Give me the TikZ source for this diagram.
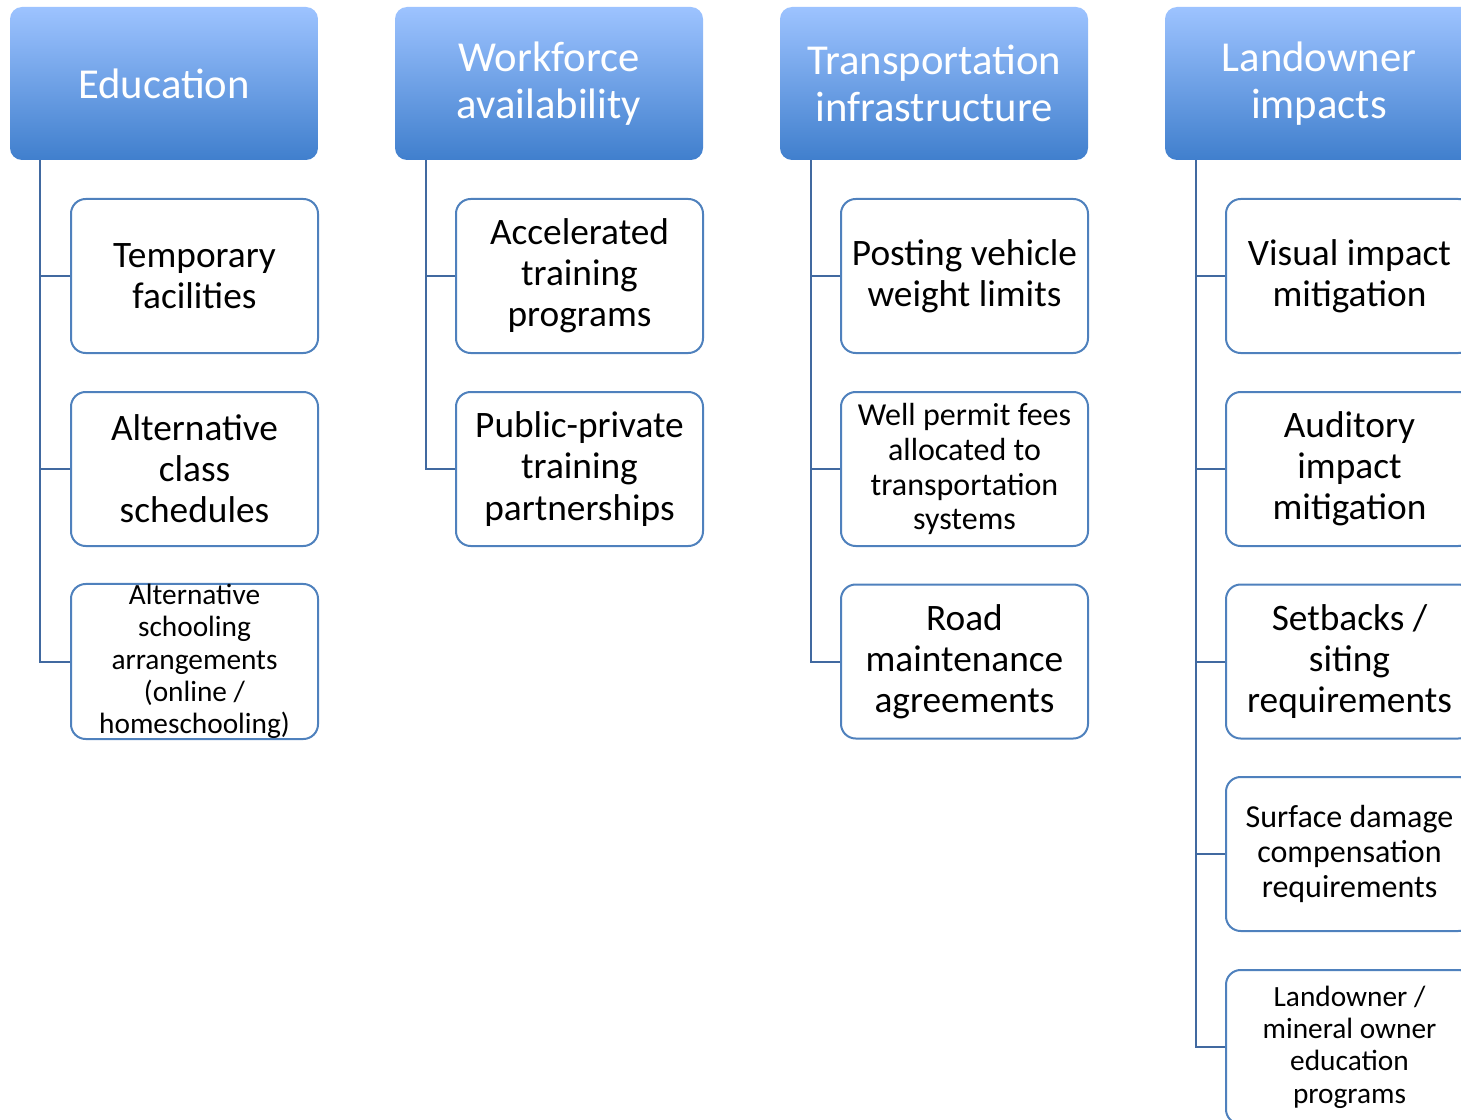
\documentclass[tikz,border=0pt]{standalone}
\usepackage{fontspec}
\setmainfont{Carlito}
\usetikzlibrary{calc}
\definecolor{hdrtop}{RGB}{157,195,255}
\definecolor{hdrbot}{RGB}{64,127,205}
\definecolor{boxline}{RGB}{79,129,189}
\definecolor{connline}{RGB}{65,105,160}
\begin{document}
\begin{tikzpicture}[x=0.75pt,y=-0.75pt,
 hdr/.style={rounded corners=9pt, top color=hdrtop, bottom color=hdrbot, draw=none, minimum width=231pt, minimum height=114.75pt, text=white, align=center, font=\fontsize{32}{35}\selectfont, inner sep=0pt},
 item/.style={rounded corners=11pt, draw=boxline, line width=1.5pt, fill=white, minimum width=185.25pt, minimum height=115.5pt, align=center, inner sep=0pt, font=\fontsize{28}{30.8}\selectfont},
 smalltxt/.style={font=\fontsize{24}{26.2}\selectfont},
 tinytxt/.style={font=\fontsize{22}{24.3}\selectfont},
 conn/.style={draw=connline, line width=1.5pt}]
\useasboundingbox (0,0) rectangle (1461,1120);
\clip (0,0) rectangle (1461,1120);

% headers
\node[hdr] (h1) at (164,83.5) {Education};
\node[hdr] (h2) at (549,83.5) {Workforce\\availability};
\node[hdr] (h3) at (934,83.5) {Transportation\\infrastructure};
\node[hdr] (h4) at (1319,83.5) {Landowner\\impacts};

% column 1
\node[item] (c11) at (194.5,276) {Temporary\\facilities};
\node[item] (c12) at (194.5,469) {Alternative\\class\\schedules};
\node[item,tinytxt] (c13) at (194.5,661.5) {Alternative\\schooling\\arrangements\\(online /\\homeschooling)};

% column 2
\node[item] (c21) at (579.5,276) {Accelerated\\training\\programs};
\node[item] (c22) at (579.5,469) {Public-private\\training\\partnerships};

% column 3
\node[item] (c31) at (964.5,276) {Posting vehicle\\weight limits};
\node[item,smalltxt] (c32) at (964.5,469) {Well permit fees\\allocated to\\transportation\\systems};
\node[item] (c33) at (964.5,661.5) {Road\\maintenance\\agreements};

% column 4
\node[item] (c41) at (1349.5,276) {Visual impact\\mitigation};
\node[item] (c42) at (1349.5,469) {Auditory\\impact\\mitigation};
\node[item] (c43) at (1349.5,661.5) {Setbacks /\\siting\\requirements};
\node[item,smalltxt] (c44) at (1349.5,854) {Surface damage\\compensation\\requirements};
\node[item,tinytxt] (c45) at (1349.5,1047) {Landowner /\\mineral owner\\education\\programs};

% connectors
\draw[conn] ($(h1.south west)+(30,0)$) |- (c13.west);
\draw[conn] (c11.west) -- ++(-31,0);
\draw[conn] (c12.west) -- ++(-31,0);

\draw[conn] ($(h2.south west)+(31,0)$) |- (c22.west);
\draw[conn] (c21.west) -- ++(-30,0);

\draw[conn] ($(h3.south west)+(31,0)$) |- (c33.west);
\draw[conn] (c31.west) -- ++(-30,0);
\draw[conn] (c32.west) -- ++(-30,0);

\draw[conn] ($(h4.south west)+(31,0)$) |- (c45.west);
\draw[conn] (c41.west) -- ++(-30,0);
\draw[conn] (c42.west) -- ++(-30,0);
\draw[conn] (c43.west) -- ++(-30,0);
\draw[conn] (c44.west) -- ++(-30,0);
\end{tikzpicture}
\end{document}
